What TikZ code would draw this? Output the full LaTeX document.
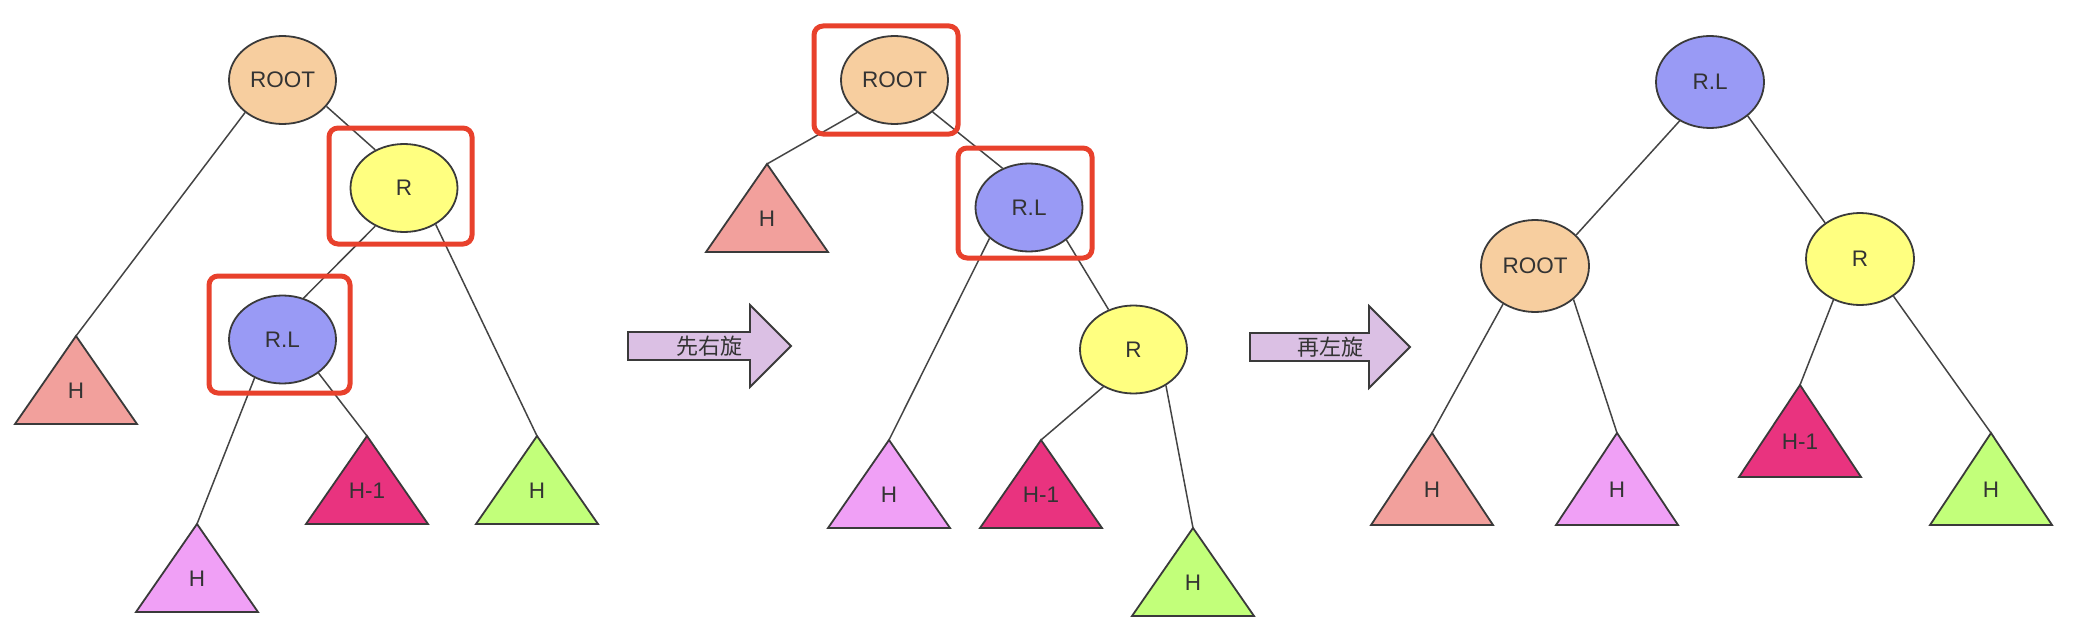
\documentclass[tikz,border=0pt]{standalone}
\usepackage{fontspec}
\setmainfont{Liberation Sans}
\newfontfamily\cjk{Noto Sans CJK SC}
\usetikzlibrary{shapes.geometric}
\definecolor{bordc}{HTML}{3A3A3A}
\definecolor{edgec}{HTML}{444444}
\definecolor{textc}{HTML}{333333}
\definecolor{rootc}{HTML}{F7CE9F}
\definecolor{rc}{HTML}{FFFF80}
\definecolor{rlc}{HTML}{999AF5}
\definecolor{salc}{HTML}{F2A09C}
\definecolor{pinkc}{HTML}{F0A0F6}
\definecolor{magc}{HTML}{E9337F}
\definecolor{grnc}{HTML}{C2FF7A}
\definecolor{arrc}{HTML}{DBC0E4}
\definecolor{redc}{HTML}{E8412C}
\newcommand\mytri[6]{%
  \draw[tribox, fill=#5] (#2,#3) -- ++(61,#4) -- ++(-122,0) -- cycle;
  \coordinate (#1) at (#2,#3);
  \node[lbl] (#1l) at (#2,#3+0.62*#4) {#6};
}
\begin{document}
\begin{tikzpicture}[x=1pt,y=-1pt,
  nd/.style={ellipse, draw=bordc, line width=1.8pt, minimum width=107pt, minimum height=88pt, inner sep=0pt, font=\fontsize{22.5}{27}\selectfont, text=textc},
  ndb/.style={nd, minimum width=108pt, minimum height=92pt},
  edge/.style={draw=edgec, line width=1.5pt},
  tribox/.style={draw=bordc, line width=1.8pt, line join=miter},
  lbl/.style={font=\fontsize{22.5}{27}\selectfont, text=textc, inner sep=0pt},
  cjklbl/.style={font=\cjk\fontsize{22}{26}\selectfont, text=textc, inner sep=0pt},
  redbox/.style={draw=redc, line width=5pt, rounded corners=9pt},
  arrowshape/.style={fill=arrc, draw=bordc, line width=1.8pt, line join=miter}]
\useasboundingbox (0,0) rectangle (2086,626);

% ---------- left tree ----------
\node[nd, fill=rootc] (rootA) at (282.5,80) {ROOT};
\node[nd, fill=rc] (rA) at (404,188) {R};
\node[nd, fill=rlc] (rlA) at (282.5,339.5) {R.L};
\mytri{hA}{76}{336}{88}{salc}{H}
\mytri{pA}{197}{524}{88}{pinkc}{H}
\mytri{mA}{367}{436}{88}{magc}{H-1}
\mytri{gA}{537}{436}{88}{grnc}{H}
\draw[edge] (rootA.221) -- (hA);
\draw[edge] (rootA.329) -- (rA.127);
\draw[edge] (rA.233) -- (rlA.63);
\draw[edge] (rA.311) -- (gA);
\draw[edge] (rlA.234) -- (pA);
\draw[edge] (rlA.317) -- (mA);
\draw[redbox] (329,128) rectangle (472,244);
\draw[redbox] (209,276) rectangle (350,393);

% ---------- arrow 1 ----------
\draw[arrowshape] (628,332) -- (750,332) -- (750,305) -- (791,346) -- (750,387) -- (750,360) -- (628,360) -- cycle;
\node[cjklbl] (a1) at (709,346) {先右旋};

% ---------- middle tree ----------
\node[nd, fill=rootc] (rootB) at (894.5,80) {ROOT};
\node[nd, fill=rlc] (rlB) at (1029,207.5) {R.L};
\node[nd, fill=rc] (rB) at (1133.5,349.5) {R};
\mytri{hB}{767}{164}{88}{salc}{H}
\mytri{pB}{889}{440}{88}{pinkc}{H}
\mytri{mB}{1041}{440}{88}{magc}{H-1}
\mytri{gB}{1193}{528}{88}{grnc}{H}
\draw[edge] (rootB.221) -- (hB);
\draw[edge] (rootB.320) -- (rlB.124);
\draw[edge] (rlB.218) -- (pB);
\draw[edge] (rlB.319) -- (rB.122);
\draw[edge] (rB.231) -- (mB);
\draw[edge] (rB.312) -- (gB);
\draw[redbox] (814,26) rectangle (958,134);
\draw[redbox] (958,148) rectangle (1092,258);

% ---------- arrow 2 ----------
\draw[arrowshape] (1250,333) -- (1369,333) -- (1369,306) -- (1410,347) -- (1369,388) -- (1369,361) -- (1250,361) -- cycle;
\node[cjklbl] (a2) at (1330,347) {再左旋};

% ---------- right tree ----------
\node[ndb, fill=rlc] (rlC) at (1710,82) {R.L};
\node[ndb, fill=rootc] (rootC) at (1535,266) {ROOT};
\node[ndb, fill=rc] (rC) at (1860,259) {R};
\mytri{hC}{1432}{433}{92}{salc}{H}
\mytri{pC}{1617}{433}{92}{pinkc}{H}
\mytri{mC}{1800}{385}{92}{magc}{H-1}
\mytri{gC}{1991}{433}{92}{grnc}{H}
\draw[edge] (rlC.232) -- (rootC.37);
\draw[edge] (rlC.318) -- (rC.134);
\draw[edge] (rootC.230) -- (hC);
\draw[edge] (rootC.319) -- (pC);
\draw[edge] (rC.237) -- (mC);
\draw[edge] (rC.312) -- (gC);
\end{tikzpicture}
\end{document}
